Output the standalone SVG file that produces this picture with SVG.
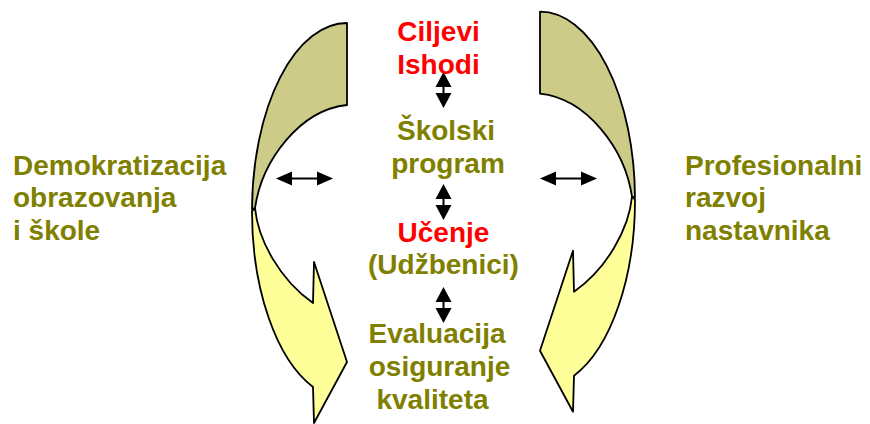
<svg xmlns="http://www.w3.org/2000/svg" width="870" height="424" viewBox="0 0 870 424">
<style>
.dark{fill:#CCCC88;stroke:#000;stroke-width:1.8;stroke-linejoin:round}
.light{fill:#FFFF99;stroke:#000;stroke-width:1.8;stroke-linejoin:round}
.t{font-family:"Liberation Sans",Arial,sans-serif;font-weight:bold;font-size:28px}
.ol{fill:#808000}
.rd{fill:#FF0000}
.c{text-anchor:middle}
.ln{stroke:#000;stroke-width:2;fill:none}
.hd{fill:#000}
</style>
<defs>
<g id="curved">
<path class="light" d="M252,211 A95,188 0 0 0 313,387 L314,423 L347,362 L314,262 L313,303 C280,280 258,240 255,208 Z"/>
<path class="dark" d="M347,23 A95,188 0 0 0 252,209 L255,208 C262,160 300,110 347,105 Z"/>
</g>
<g id="harrow">
<line class="ln" x1="288" y1="0" x2="321" y2="0"/>
<path class="hd" d="M276,0 L292,-7 L292,7 Z"/>
<path class="hd" d="M333,0 L317,-7 L317,7 Z"/>
</g>
<g id="varrow">
<line class="ln" x1="0" y1="12" x2="0" y2="24"/>
<path class="hd" d="M0,0 L-8,15 L8,15 Z"/>
<path class="hd" d="M0,36 L-8,21 L8,21 Z"/>
</g>
</defs>
<g id="arrow-left"><use href="#curved"/></g>
<g id="arrow-right" transform="translate(887,-11.3) scale(-1,1)"><use href="#curved"/></g>
<g id="connectors">
<use href="#harrow" transform="translate(0,178.5)"/>
<use href="#harrow" transform="translate(264,178.5)"/>
<use href="#varrow" transform="translate(443.5,72)"/>
<use href="#varrow" transform="translate(443.5,184)"/>
<use href="#varrow" transform="translate(443.5,287)"/>
</g>
<g id="node-ciljevi">
<text class="t rd c" x="438.5" y="40.5">Ciljevi</text>
<text class="t rd c" x="438.5" y="74">Ishodi</text>
</g>
<g id="node-skolski">
<text class="t ol c" x="446" y="140">Školski</text>
<text class="t ol c" x="448" y="172.5">program</text>
</g>
<g id="node-ucenje">
<text class="t rd c" x="443.5" y="242">Učenje</text>
<text class="t ol c" x="443.5" y="274">(Udžbenici)</text>
</g>
<g id="node-evaluacija">
<text class="t ol c" x="437" y="343">Evaluacija</text>
<text class="t ol c" x="439.5" y="375.5">osiguranje</text>
<text class="t ol c" x="432.5" y="409">kvaliteta</text>
</g>
<g id="node-demokratizacija">
<text class="t ol" x="13" y="175">Demokratizacija</text>
<text class="t ol" x="13" y="207">obrazovanja</text>
<text class="t ol" x="13" y="240">i škole</text>
</g>
<g id="node-profesionalni">
<text class="t ol" x="685" y="175">Profesionalni</text>
<text class="t ol" x="685" y="207">razvoj</text>
<text class="t ol" x="685" y="240">nastavnika</text>
</g>
</svg>
